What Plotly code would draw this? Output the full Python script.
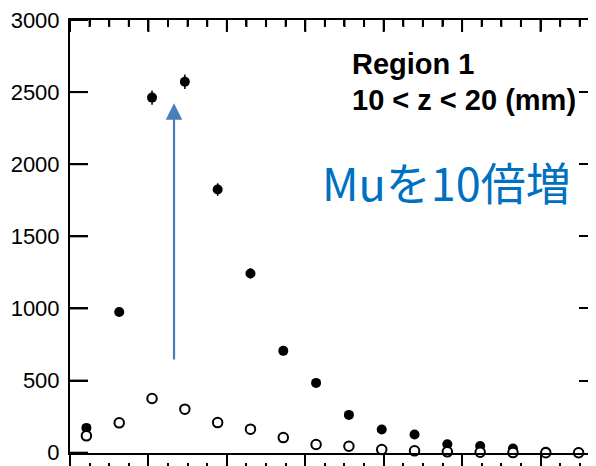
import plotly.graph_objects as go

# ---- data ----
bin_center = [0, 1, 2, 3, 4, 5, 6, 7, 8, 9, 10, 11, 12, 13, 14, 15]
mu_x10 = [172, 975, 2462, 2572, 1825, 1243, 706, 484, 262, 161, 126, 59, 47, 29, 6, 2]
mu_x10_err = [13, 31, 50, 51, 43, 35, 27, 22, 16, 13, 11, 8, 7, 5, 3, 2]
mu_x1 = [117, 207, 376, 302, 209, 163, 105, 57, 45, 22, 13, 6, 3, 1, 0, 0]
mu_x1_err = [11, 14, 19, 17, 14, 13, 10, 8, 7, 5, 4, 3, 2, 1, 1, 1]
y_ticks = [0, 500, 1000, 1500, 2000, 2500, 3000]

region_title = "Region 1"
region_range = "10 &lt; z &lt; 20 (mm)"
gain_label = "Muを10倍増"

X_RANGE = [-0.5, 15.5]
Y_RANGE = [0, 3000]
MAJOR = 2.39
MINOR = MAJOR / 4

fig = go.Figure()

# helper (empty) traces so the overlay axes are drawn
fig.add_trace(go.Scatter(x=[None], y=[None], xaxis="x3", yaxis="y2", mode="markers",
                         showlegend=False, hoverinfo="skip"))
fig.add_trace(go.Scatter(x=[None], y=[None], xaxis="x2", yaxis="y", mode="markers",
                         showlegend=False, hoverinfo="skip"))

fig.add_trace(go.Scatter(
    x=bin_center, y=mu_x10, mode="markers",
    marker=dict(symbol="circle", size=10, color="black"),
    error_y=dict(type="data", array=mu_x10_err, color="black", thickness=1.5, width=0),
    cliponaxis=False, showlegend=False, hoverinfo="skip",
))
fig.add_trace(go.Scatter(
    x=bin_center, y=mu_x1, mode="markers",
    marker=dict(symbol="circle", size=9.5, color="white", line=dict(color="black", width=2)),
    error_y=dict(type="data", array=mu_x1_err, color="black", thickness=1.5, width=0),
    cliponaxis=False, showlegend=False, hoverinfo="skip",
))

# page has an 8px body margin: the figure is sized so it fills the rest of the window
OFF = 8
W, H = 596 - OFF, 466 - OFF
ml, mr, mt, mb = 70 - OFF, 1, 20 - OFF, 0
pw, ph = W - ml - mr, H - mt - mb
y_bottom_px = 452.7 - OFF
y_dom0 = (H - y_bottom_px) / ph
minor_pos = (H - (461.5 - OFF)) / ph

fig.update_layout(
    template="none",
    width=W, height=H,
    margin=dict(l=ml, r=mr, t=mt, b=mb, autoexpand=False),
    paper_bgcolor="white", plot_bgcolor="white",
    showlegend=False,
    font=dict(family="Liberation Sans, Arial, sans-serif", color="black"),
    xaxis=dict(
        range=X_RANGE, showgrid=False, zeroline=False, automargin=False,
        showline=True, linecolor="black", linewidth=2,
        ticks="outside", ticklen=16, tickwidth=2, tickcolor="black",
        tickmode="linear", tick0=X_RANGE[0], dtick=MAJOR,
        showticklabels=False, anchor="y",
    ),
    xaxis2=dict(
        range=X_RANGE, overlaying="x", anchor="free", position=minor_pos,
        showgrid=False, zeroline=False, showline=False, automargin=False,
        ticks="outside", ticklen=8, tickwidth=1.5, tickcolor="black",
        tickmode="linear", tick0=X_RANGE[0], dtick=MINOR,
        showticklabels=False,
    ),
    xaxis3=dict(
        range=X_RANGE, overlaying="x", side="top", anchor="y2",
        showgrid=False, zeroline=False, automargin=False,
        showline=True, linecolor="black", linewidth=2,
        ticks="inside", ticklen=11, tickwidth=2, tickcolor="black",
        tickmode="linear", tick0=X_RANGE[0], dtick=MAJOR,
        minor=dict(ticks="inside", ticklen=6, tickwidth=1.5, tickcolor="black",
                   tickmode="linear", tick0=X_RANGE[0], dtick=MINOR, showgrid=False),
        showticklabels=False,
    ),
    yaxis=dict(
        range=Y_RANGE, domain=[y_dom0, 1], showgrid=False, zeroline=False, automargin=False,
        showline=True, linecolor="black", linewidth=2,
        ticks="inside", ticklen=18, tickwidth=2, tickcolor="black",
        ticklabelstandoff=4, ticklabeloverflow="allow",
        tickmode="array", tickvals=y_ticks, ticktext=[str(v) for v in y_ticks],
        tickfont=dict(size=22, color="black", family="Liberation Sans, Arial, sans-serif"),
    ),
    yaxis2=dict(
        range=Y_RANGE, overlaying="y", side="right", anchor="x3",
        showgrid=False, zeroline=False, automargin=False,
        showline=True, linecolor="#d0d0d0", linewidth=1,
        ticks="inside", ticklen=16, tickwidth=2, tickcolor="black",
        tickmode="array", tickvals=y_ticks, showticklabels=False,
    ),
)

def px_x(px):
    return (px - OFF - ml) / pw

def px_y(py):
    return (H - (py - OFF)) / ph

def val_to_py(v):
    # page pixel of a y value on the main axis
    return y_bottom_px + OFF - (v - Y_RANGE[0]) / (Y_RANGE[1] - Y_RANGE[0]) * (y_bottom_px - mt)

def xval_to_px(xv):
    return ml + OFF + (xv - X_RANGE[0]) / (X_RANGE[1] - X_RANGE[0]) * pw

# inner tick marks of the left and top frame (paper-referenced, derived from the axis scales)
for v in y_ticks:
    py = val_to_py(v)
    fig.add_shape(type="line", xref="paper", yref="paper",
                  x0=px_x(70), x1=px_x(88), y0=px_y(py), y1=px_y(py),
                  line=dict(color="black", width=2), layer="above")

k = 0
while X_RANGE[0] + k * MINOR <= X_RANGE[1] + 1e-9:
    xv = X_RANGE[0] + k * MINOR
    is_major = (k % 4 == 0)
    pxv = xval_to_px(xv)
    fig.add_shape(type="line", xref="paper", yref="paper",
                  x0=px_x(pxv), x1=px_x(pxv),
                  y0=px_y(20), y1=px_y(32 if is_major else 27),
                  line=dict(color="black", width=2), layer="above")
    k += 1

fig.add_annotation(
    xref="paper", yref="paper", x=px_x(350), y=px_y(64),
    xanchor="left", yanchor="middle", showarrow=False,
    text="<b>" + region_title + "</b>",
    font=dict(size=29, color="black", family="Liberation Sans, Arial, sans-serif"),
)
fig.add_annotation(
    xref="paper", yref="paper", x=px_x(350), y=px_y(100),
    xanchor="left", yanchor="middle", showarrow=False,
    text="<b>" + region_range + "</b>",
    font=dict(size=29, color="black", family="Liberation Sans, Arial, sans-serif"),
)
fig.add_annotation(
    xref="paper", yref="paper", x=px_x(320), y=px_y(181),
    xanchor="left", yanchor="middle", showarrow=False,
    text=gain_label,
    font=dict(size=45, color="#0070C0", family="Noto Sans CJK JP, sans-serif"),
)
fig.add_annotation(
    xref="x", yref="y", axref="x", ayref="y",
    x=2.67, y=2422, ax=2.67, ay=635,
    text="", showarrow=True,
    arrowhead=2, arrowsize=1.5, arrowwidth=2.2, arrowcolor="#4A7EBB",
)

fig.write_html("out.html")
